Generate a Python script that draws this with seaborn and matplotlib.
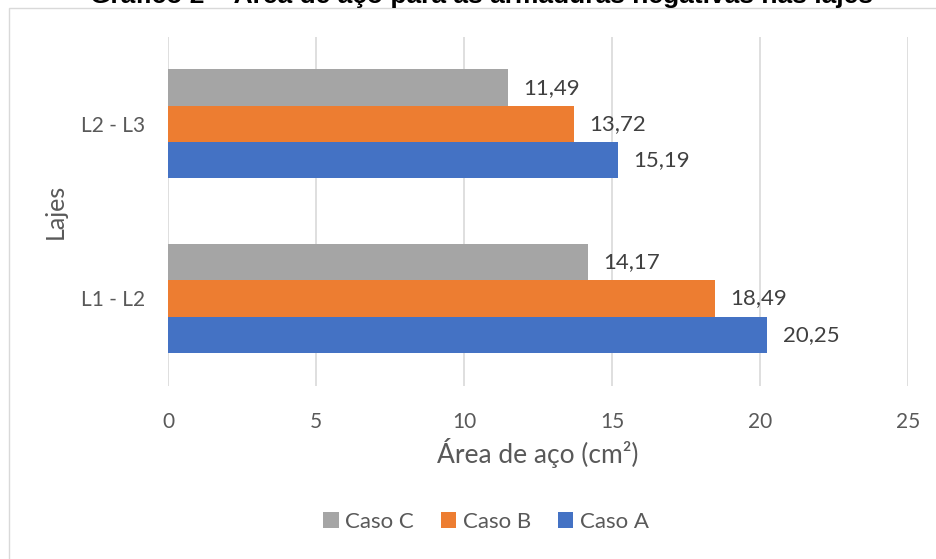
import matplotlib
matplotlib.use("Agg")
import matplotlib.pyplot as plt
from matplotlib.patches import Rectangle, Patch
import seaborn as sns
import pandas as pd

# ---- data ----
lajes = ["L2 - L3", "L1 - L2"]
casos = ["Caso C", "Caso B", "Caso A"]
caso_a = [15.19, 20.25]
caso_b = [13.72, 18.49]
caso_c = [11.49, 14.17]
xticks = [0, 5, 10, 15, 20, 25]
title = "Gráfico 2 – Área de aço para as armaduras negativas nas lajes"
xlabel = "Área de aço (cm²)"
ylabel = "Lajes"

colors = {"Caso C": "#a5a5a5", "Caso B": "#ed7d31", "Caso A": "#4472c4"}

rows = []
for i, laje in enumerate(lajes):
    rows.append({"laje": laje, "caso": "Caso C", "valor": caso_c[i]})
    rows.append({"laje": laje, "caso": "Caso B", "valor": caso_b[i]})
    rows.append({"laje": laje, "caso": "Caso A", "valor": caso_a[i]})
df = pd.DataFrame(rows)

sns.set_theme(style="white")
plt.rcParams["font.family"] = ["Lato", "DejaVu Sans"]

W, H = 937, 559
fig = plt.figure(figsize=(W / 100, H / 100), dpi=100)
left, right, top, bottom = 168.3, 908, 36.7, 385.7
ax = fig.add_axes([left / W, 1 - bottom / H, (right - left) / W, (bottom - top) / H])

sns.barplot(data=df, y="laje", x="valor", hue="caso", order=lajes,
            hue_order=casos, palette=colors, orient="h", width=0.625,
            errorbar=None, linewidth=0, ax=ax, legend=False, gap=0,
            saturation=1)

ax.set_xlim(0, 25)
ax.set_ylim(1.5, -0.5)
ax.set_xticks(xticks)
ax.set_xticklabels([str(t) for t in xticks])
ax.grid(axis="x", color="#d9d9d9", linewidth=1.2)
ax.grid(axis="y", visible=False)
ax.set_axisbelow(True)
for s in ax.spines.values():
    s.set_visible(False)
ax.tick_params(axis="x", length=0, pad=19, labelsize=15, labelcolor="#595959")
ax.tick_params(axis="y", length=0, pad=17, labelsize=15, labelcolor="#595959")
ax.set_xlabel(xlabel, fontsize=19, color="#595959", labelpad=4)
ax.set_ylabel(ylabel, fontsize=18, color="#595959", labelpad=10)

for cont in ax.containers:
    for bar in cont:
        v = bar.get_width()
        ax.annotate(f"{v:.2f}".replace(".", ","),
                    (v, bar.get_y() + bar.get_height() / 2),
                    xytext=(11, 0), textcoords="offset points",
                    va="center", ha="left", fontsize=16, color="#404040")

handles = [Patch(facecolor=colors[c], edgecolor="none") for c in casos]
fig.legend(handles, casos, loc="center", bbox_to_anchor=(486 / W, 1 - 522 / H),
           ncol=3, frameon=False, fontsize=16, labelcolor="#595959",
           handlelength=0.7, handleheight=0.7, handletextpad=0.3,
           columnspacing=1.2)

fig.add_artist(Rectangle((9 / W, -0.1), 2, (H - 8) / H + 0.1,
                         transform=fig.transFigure, fill=False,
                         edgecolor="#d9d9d9", linewidth=1))

fig.text(482 / W, 1 - 3.5 / H, title, ha="center", va="baseline",
         fontsize=19, fontweight="bold", color="black",
         family=["Liberation Sans", "DejaVu Sans"])

fig.savefig("out.png", dpi=100)
